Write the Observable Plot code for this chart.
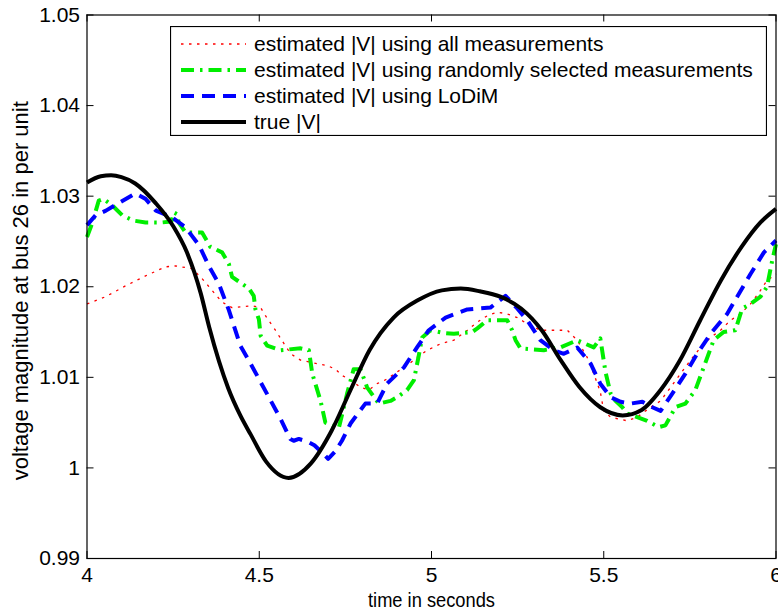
<!DOCTYPE html>
<html>
<head>
<meta charset="utf-8">
<script src="https://cdn.jsdelivr.net/npm/d3@7"></script>
<script src="https://cdn.jsdelivr.net/npm/@observablehq/plot@0.6"></script>
<style>
  html, body { margin: 0; padding: 0; background: white; }
  #wrap { position: relative; width: 778px; height: 613px; }
  #legend { position: absolute; left: 170px; top: 26px; }
</style>
</head>
<body>
<div id="wrap"><div id="chart"></div><svg id="legend" width="597" height="110"></svg></div>
<script>
// ---- data ----
const xTicks = [4, 4.5, 5, 5.5, 6];
const yTicks = [0.99, 1, 1.01, 1.02, 1.03, 1.04, 1.05];
const xLabel = "time in seconds";
const yLabel = "voltage magnitude at bus 26 in per unit";
const seriesNames = [
  "estimated |V| using all measurements",
  "estimated |V| using randomly selected measurements",
  "estimated |V| using LoDiM",
  "true |V|"
];

const allT = [4.00,4.054,4.112,4.17,4.228,4.257,4.305,4.334,4.363,4.392,4.421,4.45,4.48,4.504,4.518,4.547,4.562,4.591,4.62,4.668,4.697,4.721,4.741,4.765,4.794,4.818,4.842,4.871,4.90,4.929,4.958,4.988,5.026,5.065,5.104,5.133,5.162,5.191,5.22,5.249,5.278,5.316,5.355,5.394,5.423,5.452,5.471,5.49,5.50,5.52,5.568,5.597,5.636,5.665,5.694,5.723,5.752,5.781,5.81,5.839,5.868,5.897,5.926,5.955,5.974,6.00];
const allV = [1.0181,1.0189,1.0201,1.0212,1.0222,1.0223,1.0220,1.0209,1.0196,1.0183,1.0177,1.0178,1.0179,1.0177,1.0168,1.0152,1.0143,1.0126,1.0119,1.0115,1.0113,1.0109,1.0102,1.0097,1.0089,1.0086,1.0093,1.0098,1.0106,1.0113,1.0122,1.0130,1.0137,1.0141,1.0152,1.0161,1.0168,1.0172,1.0170,1.0166,1.0159,1.0152,1.0152,1.0152,1.0141,1.0122,1.0104,1.0084,1.0063,1.0056,1.0052,1.0056,1.0067,1.0074,1.0089,1.0104,1.0119,1.0133,1.0144,1.0152,1.0163,1.0170,1.0181,1.0196,1.0207,1.0214];

const randT = [4.000,4.015,4.034,4.048,4.073,4.102,4.135,4.17,4.218,4.245,4.252,4.262,4.266,4.286,4.334,4.358,4.392,4.412,4.421,4.47,4.484,4.489,4.499,4.504,4.523,4.562,4.62,4.644,4.654,4.678,4.692,4.731,4.755,4.774,4.794,4.813,4.847,4.881,4.90,4.929,4.949,4.963,4.973,4.997,5.036,5.065,5.118,5.133,5.162,5.22,5.234,5.244,5.258,5.326,5.355,5.374,5.423,5.471,5.49,5.505,5.52,5.534,5.554,5.568,5.597,5.626,5.66,5.679,5.708,5.737,5.766,5.79,5.819,5.848,5.882,5.902,5.926,5.955,5.974,5.989,6.00];
const randV = [1.0255,1.0270,1.0295,1.0297,1.0290,1.0279,1.0273,1.0271,1.0271,1.0272,1.0282,1.0280,1.0271,1.0260,1.0260,1.0244,1.0238,1.0225,1.0211,1.0198,1.0190,1.0175,1.0164,1.0146,1.0135,1.0130,1.0132,1.0130,1.0104,1.0074,1.0050,1.0044,1.0082,1.0109,1.0109,1.0089,1.0071,1.0074,1.0078,1.0086,1.0097,1.0124,1.0144,1.0152,1.0149,1.0148,1.0150,1.0154,1.0163,1.0163,1.0152,1.0141,1.0132,1.0130,1.0132,1.0133,1.0141,1.0133,1.0143,1.0106,1.0082,1.0074,1.0067,1.0060,1.0056,1.0052,1.0045,1.0047,1.0067,1.0071,1.0086,1.0111,1.0141,1.0150,1.0152,1.0176,1.0181,1.0189,1.0200,1.0229,1.0247];

const lodimT = [4.000,4.025,4.055,4.09,4.14,4.17,4.20,4.245,4.285,4.325,4.355,4.383,4.412,4.445,4.475,4.528,4.562,4.59,4.60,4.615,4.64,4.66,4.685,4.70,4.72,4.74,4.765,4.79,4.808,4.842,4.871,4.92,4.958,4.992,5.041,5.104,5.171,5.215,5.249,5.278,5.316,5.355,5.384,5.423,5.462,5.49,5.52,5.549,5.578,5.612,5.641,5.665,5.699,5.737,5.771,5.81,5.858,5.892,5.926,5.965,6.00];
const lodimV = [1.0268,1.0279,1.0284,1.0292,1.0303,1.0297,1.0284,1.0277,1.0266,1.0246,1.0222,1.0203,1.0174,1.0135,1.0115,1.0078,1.0054,1.0032,1.0030,1.0032,1.0029,1.0025,1.0016,1.0010,1.0018,1.0030,1.0049,1.0062,1.0071,1.0071,1.0093,1.0111,1.0133,1.0152,1.0166,1.0175,1.0177,1.0190,1.0176,1.0163,1.0141,1.0130,1.0126,1.0133,1.0115,1.0093,1.0078,1.0073,1.0071,1.0073,1.0067,1.0063,1.0082,1.0104,1.0126,1.0148,1.0170,1.0192,1.0214,1.0238,1.0251];

const trueT = [4.00,4.04,4.07,4.10,4.14,4.20,4.25,4.29,4.33,4.355,4.41,4.445,4.475,4.52,4.585,4.65,4.71,4.765,4.82,4.89,4.96,5.03,5.085,5.14,5.20,5.26,5.32,5.375,5.43,5.49,5.555,5.61,5.665,5.72,5.78,5.84,5.90,5.955,6.00];
const trueV = [1.0315,1.0322,1.0323,1.0321,1.0314,1.0292,1.0267,1.0238,1.0193,1.0155,1.0088,1.0058,1.0037,1.0007,0.9989,1.0005,1.0041,1.0086,1.0130,1.0166,1.0185,1.0196,1.0198,1.0195,1.0189,1.0176,1.0152,1.0119,1.0089,1.0067,1.0058,1.0064,1.0086,1.0118,1.0163,1.0207,1.0244,1.0271,1.0286];

const colors = ["#ff0000", "#00ee00", "#0000ff", "#000000"];
const widths = [1.3, 4, 4, 4];
const dashes = ["2.5,5.5", "13,6,2.5,6", "13,8", "none"];

const toRows = (T, V) => T.map((t, i) => ({t, v: V[i]}));
const series = [toRows(allT, allV), toRows(randT, randV), toRows(lodimT, lodimV), toRows(trueT, trueV)];

const W = 778, H = 613;
const mL = 86.5, mR = 2.5, mT = 14.5, mB = 55;
const plotW = W - mL - mR, plotH = H - mT - mB;
const fmt = d => String(d);
const FONT = "'Liberation Sans', Arial, Helvetica, sans-serif";

const lineMarks = series.map((rows, i) => Plot.line(rows, {
  x: "t", y: "v", stroke: colors[i], strokeWidth: widths[i],
  strokeDasharray: dashes[i], strokeLinecap: "butt", strokeLinejoin: "round",
  curve: i === 3 ? "monotone-x" : "linear"
}));

const chart = Plot.plot({
  width: W, height: H,
  marginLeft: mL, marginRight: mR, marginTop: mT, marginBottom: mB,
  style: {fontFamily: FONT, fontSize: "21px", background: "white", color: "black"},
  x: {domain: [4, 6]},
  y: {domain: [0.99, 1.05]},
  marks: [
    Plot.axisX(xTicks, {tickSize: 0, tickPadding: 9, tickFormat: fmt, label: null, fontSize: 21}),
    Plot.axisY(yTicks, {tickSize: 0, tickPadding: 7, tickFormat: fmt, label: null, fontSize: 21}),
    Plot.tickX(xTicks, {x: d => d, stroke: "black", insetTop: plotH - 7}),
    Plot.tickX(xTicks, {x: d => d, stroke: "black", insetBottom: plotH - 7}),
    Plot.tickY(yTicks, {y: d => d, stroke: "black", insetRight: plotW - 7}),
    Plot.tickY(yTicks, {y: d => d, stroke: "black", insetLeft: plotW - 7}),
    ...lineMarks,
    Plot.frame({stroke: "black", strokeWidth: 1.2}),
    Plot.text([xLabel], {text: d => d, frameAnchor: "bottom", dy: 42, lineAnchor: "middle", textAnchor: "middle", fontSize: 20, fill: "black"}),
    Plot.text([yLabel], {text: d => d, frameAnchor: "left", dx: -66, dy: 4, rotate: -90, textAnchor: "middle", lineAnchor: "middle", fontSize: 22, fill: "black"})
  ]
});
document.getElementById("chart").appendChild(chart);

// the reference draws the x label in a condensed face: squeeze it to its width
d3.select(chart).selectAll("text").filter(function() { return this.textContent === xLabel; })
  .attr("textLength", 127).attr("lengthAdjust", "spacingAndGlyphs");

// ---- legend (inside plot area, as in the reference) ----
const lg = d3.select("#legend");
lg.append("rect").attr("x", 0.5).attr("y", 0.5).attr("width", 596).attr("height", 109)
  .attr("fill", "white").attr("stroke", "black").attr("stroke-width", 1.2);
seriesNames.forEach((name, i) => {
  const cy = 18 + i * 26;
  lg.append("line").attr("x1", 11).attr("x2", 76).attr("y1", cy).attr("y2", cy)
    .attr("stroke", colors[i]).attr("stroke-width", widths[i])
    .attr("stroke-dasharray", dashes[i]).attr("stroke-linecap", "butt");
  lg.append("text").attr("x", 84).attr("y", cy).attr("dy", "0.35em")
    .attr("font-family", FONT).attr("font-size", 21).attr("fill", "black").text(name);
});
</script>
</body>
</html>
